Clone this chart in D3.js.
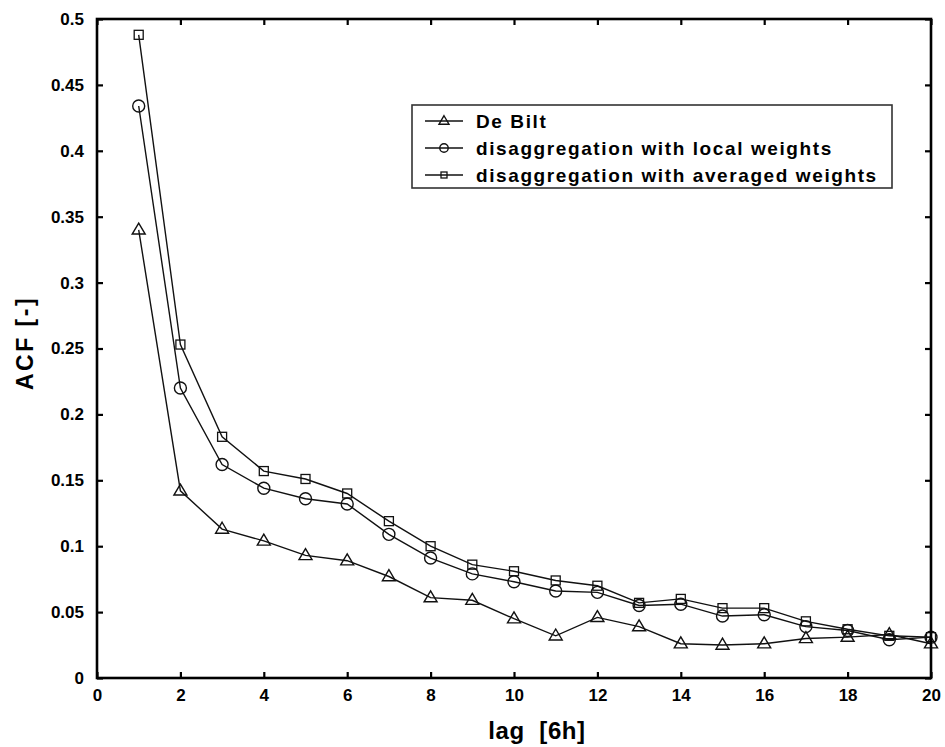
<!DOCTYPE html>
<html>
<head>
<meta charset="utf-8">
<script src="https://cdn.jsdelivr.net/npm/d3@7"></script>
<style>
  html, body { margin: 0; padding: 0; background: #fff; }
  svg { display: block; }
  text { font-family: "Liberation Sans", Arial, Helvetica, sans-serif; font-weight: bold; fill: #000; }
</style>
</head>
<body>
<svg id="chart" width="945" height="747"></svg>
<script>
// ---- data ----
const lags = [1,2,3,4,5,6,7,8,9,10,11,12,13,14,15,16,17,18,19,20];
const deBilt   = [0.340,0.142,0.113,0.104,0.093,0.089,0.077,0.061,0.059,0.045,0.032,0.046,0.039,0.026,0.025,0.026,0.030,0.031,0.033,0.026];
const localW   = [0.434,0.220,0.162,0.144,0.136,0.132,0.109,0.091,0.079,0.073,0.066,0.065,0.055,0.056,0.047,0.048,0.039,0.036,0.029,0.031];
const averW    = [0.488,0.253,0.183,0.157,0.151,0.140,0.119,0.100,0.086,0.081,0.074,0.070,0.057,0.060,0.053,0.053,0.043,0.037,0.032,0.031];
const xTicks = [0,2,4,6,8,10,12,14,16,18,20];
const yTicks = [0,0.05,0.1,0.15,0.2,0.25,0.3,0.35,0.4,0.45,0.5];
const seriesNames = ["De Bilt","disaggregation with local weights","disaggregation with averaged weights"];
const seriesMarkers = ["triangle","circle","square"];

const svg = d3.select("#chart");
const L = 97, R = 931, T = 19, B = 678;
const x = d3.scaleLinear().domain([0,20]).range([L,R]);
const y = d3.scaleLinear().domain([0,0.5]).range([B,T]);

const series = [deBilt, localW, averW];

// lines
const line = d3.line().x((d,i)=>x(lags[i])).y(d=>y(d));
series.forEach(s => {
  svg.append("path").attr("d", line(s)).attr("fill","none")
     .attr("stroke","#111").attr("stroke-width",1.4);
});

function drawMarker(g, type, cx, cy, big) {
  if (type === "circle") {
    g.append("circle").attr("cx",cx).attr("cy",cy).attr("r", big?6:4.2)
      .attr("fill","none").attr("stroke","#111").attr("stroke-width",1.4);
  } else if (type === "square") {
    const s = big?9:6;
    g.append("rect").attr("x",cx-s/2).attr("y",cy-s/2).attr("width",s).attr("height",s)
      .attr("fill","none").attr("stroke","#111").attr("stroke-width",1.3);
  } else {
    const w = big?13:10, h = big?11:8.5;
    g.append("path").attr("d",`M${cx},${cy-h*0.62}L${cx+w/2},${cy+h*0.38}L${cx-w/2},${cy+h*0.38}Z`)
      .attr("fill","none").attr("stroke","#111").attr("stroke-width",1.4);
  }
}

const mg = svg.append("g");
series.forEach((s,k) => {
  s.forEach((v,i) => drawMarker(mg, seriesMarkers[k], x(lags[i]), y(v), true));
});

// axes with inward ticks on all sides
const tickLen = 6;
const ax = svg.append("g");
ax.append("g").attr("transform",`translate(0,${B})`)
  .call(d3.axisBottom(x).tickValues(xTicks).tickSize(-tickLen).tickPadding(11).tickFormat(d3.format("d")))
  .call(g => { g.select(".domain").remove(); g.selectAll("line").attr("stroke","#000").attr("stroke-width",2.2);
               g.selectAll("text").style("font-size","17px").attr("font-family",null); });
ax.append("g").attr("transform",`translate(0,${T})`)
  .call(d3.axisTop(x).tickValues(xTicks).tickSize(-tickLen).tickFormat(""))
  .call(g => { g.select(".domain").remove(); g.selectAll("line").attr("stroke","#000").attr("stroke-width",2.2); });
ax.append("g").attr("transform",`translate(${L},0)`)
  .call(d3.axisLeft(y).tickValues(yTicks).tickSize(-tickLen).tickPadding(13).tickFormat(d => d===0?"0":String(d)))
  .call(g => { g.select(".domain").remove(); g.selectAll("line").attr("stroke","#000").attr("stroke-width",2.2);
               g.selectAll("text").style("font-size","17px").attr("font-family",null); });
ax.append("g").attr("transform",`translate(${R},0)`)
  .call(d3.axisRight(y).tickValues(yTicks).tickSize(-tickLen).tickFormat(""))
  .call(g => { g.select(".domain").remove(); g.selectAll("line").attr("stroke","#000").attr("stroke-width",2.2); });
svg.append("rect").attr("x",L).attr("y",T).attr("width",R-L).attr("height",B-T)
  .attr("fill","none").attr("stroke","#000").attr("stroke-width",2.6);

// axis titles
svg.append("text").attr("x",537).attr("y",739).attr("text-anchor","middle")
  .style("font-size","24px").style("letter-spacing","0.6px").style("white-space","pre").text("lag  [6h]");
svg.append("text").attr("transform","translate(33,343) rotate(-90)").attr("text-anchor","middle")
  .style("font-size","23px").style("letter-spacing","2.5px").text("ACF [-]");

// legend
const lg = svg.append("g");
lg.append("rect").attr("x",412).attr("y",105).attr("width",480).attr("height",83)
  .attr("fill","#fff").attr("stroke","#333").attr("stroke-width",1.6);
const rowY = [121, 148, 175];
seriesNames.forEach((name,k) => {
  lg.append("line").attr("x1",425).attr("x2",463).attr("y1",rowY[k]).attr("y2",rowY[k])
    .attr("stroke","#111").attr("stroke-width",1.3);
  drawMarker(lg, seriesMarkers[k], 444, rowY[k], false);
  lg.append("text").attr("x",476).attr("y",rowY[k]+7).style("font-size","19px")
    .style("letter-spacing","1.6px").text(name);
});
</script>
</body>
</html>
